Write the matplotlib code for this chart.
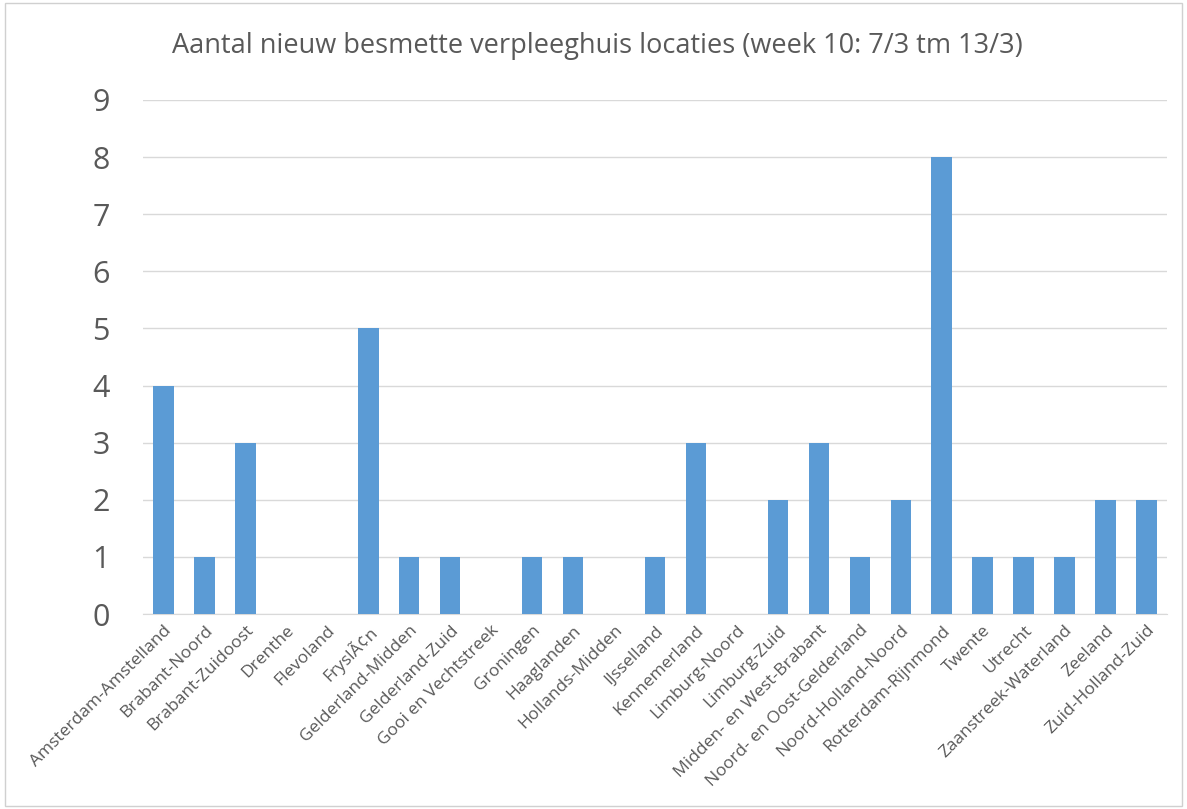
import matplotlib
matplotlib.use("Agg")
import matplotlib.pyplot as plt
from matplotlib.patches import Rectangle
from matplotlib.transforms import ScaledTranslation

categories = ["Amsterdam-Amstelland", "Brabant-Noord", "Brabant-Zuidoost", "Drenthe",
              "Flevoland", "FryslÃ¢n", "Gelderland-Midden", "Gelderland-Zuid",
              "Gooi en Vechtstreek", "Groningen", "Haaglanden", "Hollands-Midden",
              "IJsselland", "Kennemerland", "Limburg-Noord", "Limburg-Zuid",
              "Midden- en West-Brabant", "Noord- en Oost-Gelderland", "Noord-Holland-Noord",
              "Rotterdam-Rijnmond", "Twente", "Utrecht", "Zaanstreek-Waterland",
              "Zeeland", "Zuid-Holland-Zuid"]
values = [4, 1, 3, 0, 0, 5, 1, 1, 0, 1, 1, 0, 1, 3, 0, 2, 3, 1, 2, 8, 1, 1, 1, 2, 2]
yticks = list(range(0, 10))
title = "Aantal nieuw besmette verpleeghuis locaties (week 10: 7/3 tm 13/3)"

plt.rcParams['font.family'] = ['Open Sans', 'DejaVu Sans']

fig = plt.figure(figsize=(11.87, 8.09), dpi=100)
ax = fig.add_axes([143/1187, 1-614/809, 1024/1187, 514/809])

x = list(range(len(categories)))
ax.bar(x, values, width=0.5, color="#5b9bd5", zorder=3)
ax.set_xlim(-0.5, len(categories)-0.5)
ax.set_ylim(0, 9)
ax.set_yticks(yticks)
ax.set_yticklabels([str(t) for t in yticks], fontsize=22, color="#595959")
ax.set_xticks(x)
ax.set_xticklabels(categories, rotation=45, ha="right", rotation_mode="anchor",
                   fontsize=12.5, color="#595959")
offset = ScaledTranslation(8/100, 0, fig.dpi_scale_trans)
for lbl in ax.get_xticklabels():
    lbl.set_transform(lbl.get_transform() + offset)
ax.tick_params(axis='both', length=0)
ax.tick_params(axis='y', pad=24)
ax.tick_params(axis='x', pad=6)
ax.grid(axis='y', color="#d9d9d9", linewidth=1, zorder=0)
for s in ["left", "right", "top"]:
    ax.spines[s].set_visible(False)
ax.spines["bottom"].set_color("#d9d9d9")

fig.text(597/1187, 1-46/809, title, ha="center", va="center", fontsize=19.5, color="#595959")
fig.patches.append(Rectangle((0.004, 0.004), 0.992, 0.992, transform=fig.transFigure,
                             fill=False, edgecolor="#d0d0d0", linewidth=1))
fig.savefig("out.png", dpi=100)
